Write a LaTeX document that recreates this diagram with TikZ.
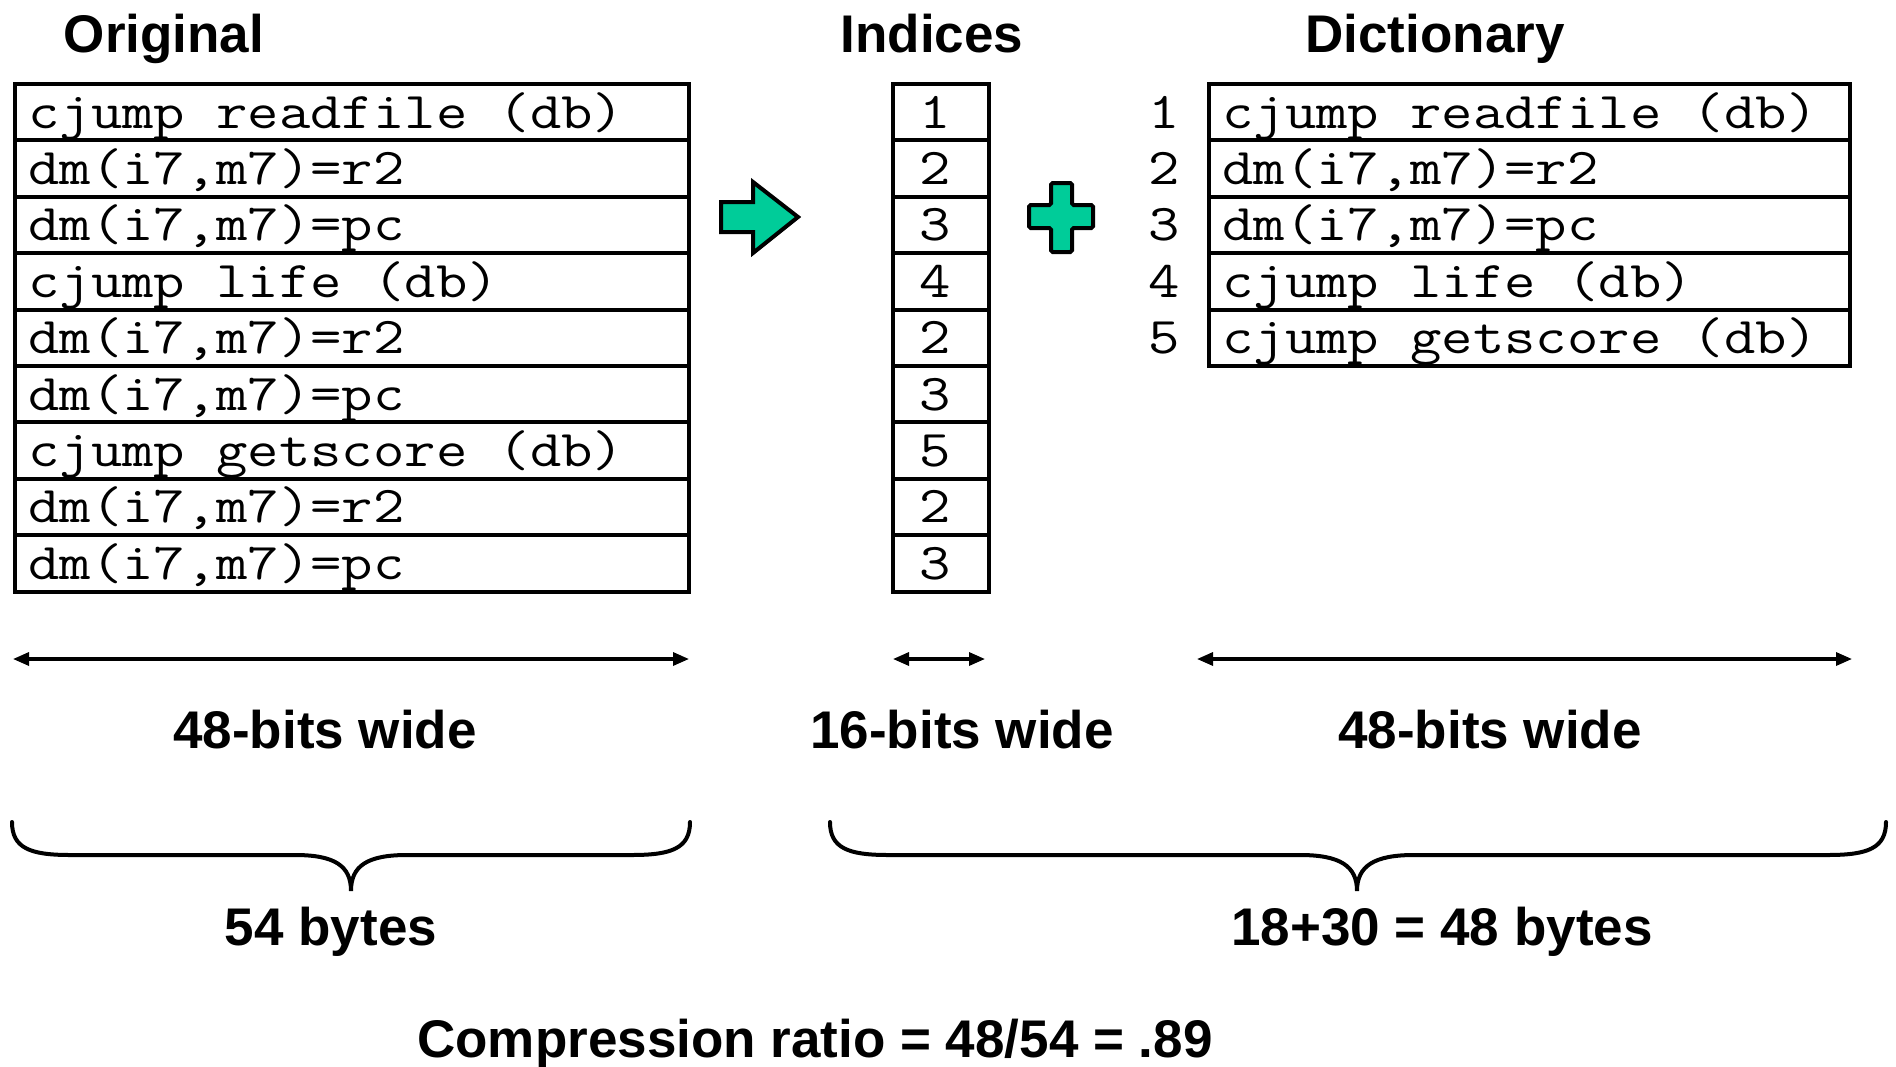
\documentclass[tikz,border=0pt]{standalone}
\usepackage{fontspec}
\usepackage{graphicx}
\setmainfont{Liberation Sans}
\usetikzlibrary{arrows.meta}
\definecolor{plusgreen}{RGB}{0,204,153}
% typewriter text widened to a 0.6em advance
\newcommand{\widecode}[1]{\scalebox{1.18}[1]{#1}}
\begin{document}
\begin{tikzpicture}[x=0.5pt,y=-0.5pt,
  cell/.style={draw=black,line width=2pt,inner sep=0pt,anchor=north west,minimum height=28.2pt},
  code/.style={font=\fontsize{25.8pt}{28pt}\ttfamily,anchor=base west,inner sep=0pt},
  idx/.style={font=\fontsize{25.8pt}{28pt}\ttfamily,anchor=base,inner sep=0pt},
  lbl/.style={font=\fontsize{26.5pt}{30pt}\bfseries,anchor=base,inner sep=0pt},
  dim/.style={line width=1.6pt,{Triangle[length=8pt,width=6.5pt]}-{Triangle[length=8pt,width=6.5pt]}},
  brace/.style={line width=2pt,line cap=round},
  symbol/.style={fill=plusgreen,draw=black,line width=2pt,line join=miter}
]
\useasboundingbox (0,0) rectangle (1896,1066);

% column headings
\node[lbl] (hOrig) at (164,52) {Original};
\node[lbl] (hIdx)  at (932,52) {Indices};
\node[lbl] (hDict) at (1435,52) {Dictionary};

% original program, one 48-bit word per row
\foreach \t [count=\i from 0] in {cjump readfile (db),{dm(i7,m7)=r2},{dm(i7,m7)=pc},cjump life (db),{dm(i7,m7)=r2},{dm(i7,m7)=pc},cjump getscore (db),{dm(i7,m7)=r2},{dm(i7,m7)=pc}}{
  \node[cell,minimum width=337pt] (o\i) at (13,82+56.4*\i) {};
  \node[code] (ot\i) at (28,82+56.4*\i+46) {\widecode{\t}};
}

% index column, 16 bits per entry
\foreach \n [count=\i from 0] in {1,2,3,4,2,3,5,2,3}{
  \node[cell,minimum width=48pt] (x\i) at (891,82+56.4*\i) {};
  \node[idx] (xt\i) at (935,82+56.4*\i+46) {\widecode{\n}};
}

% dictionary of unique words
\foreach \t [count=\i from 0] in {cjump readfile (db),{dm(i7,m7)=r2},{dm(i7,m7)=pc},cjump life (db),cjump getscore (db)}{
  \pgfmathtruncatemacro{\k}{\i+1}
  \node[cell,minimum width=320.5pt] (d\i) at (1207,82+56.4*\i) {};
  \node[code] (dt\i) at (1222,82+56.4*\i+46) {\widecode{\t}};
  \node[idx] (dn\i) at (1164,82+56.4*\i+46) {\widecode{\k}};
}

% block arrow and plus sign
\draw[symbol] (721,202) -- (753,202) -- (753,182) -- (798,217) -- (753,253)
  -- (753,232) -- (721,232) -- cycle;
\draw[symbol,rounded corners=0.8pt] (1051,183) -- (1072,183) -- (1072,205) -- (1093,205)
  -- (1093,228) -- (1072,228) -- (1072,252) -- (1051,252) -- (1051,228)
  -- (1029,228) -- (1029,205) -- (1051,205) -- cycle;

% width dimensions
\coordinate (wa1) at (13,659);   \coordinate (wa2) at (689,659);
\coordinate (wb1) at (893,659);  \coordinate (wb2) at (985,659);
\coordinate (wc1) at (1197,659); \coordinate (wc2) at (1852,659);
\draw[dim] (wa1) -- (wa2);
\draw[dim] (wb1) -- (wb2);
\draw[dim] (wc1) -- (wc2);
\node[lbl] (wla) at (325,748) {48-bits wide};
\node[lbl] (wlb) at (962,748) {16-bits wide};
\node[lbl] (wlc) at (1490,748) {48-bits wide};

% size braces
\draw[brace] (12,822) .. controls (12,848) and (30,855) .. (70,855) -- (295,855)
  .. controls (335,855) and (351,866) .. (351,891)
  .. controls (351,866) and (367,855) .. (407,855) -- (632,855)
  .. controls (672,855) and (690,848) .. (690,822);
\draw[brace] (830,822) .. controls (830,848) and (848,855) .. (888,855) -- (1300,855)
  .. controls (1340,855) and (1357,866) .. (1357,891)
  .. controls (1357,866) and (1374,855) .. (1414,855) -- (1828,855)
  .. controls (1868,855) and (1886,848) .. (1886,822);
\node[lbl] (sa) at (331,945) {54 bytes};
\node[lbl] (sb) at (1442,945) {18+30 = 48 bytes};

\node[lbl] (ratio) at (815,1057) {Compression ratio = 48/54 = .89};
\end{tikzpicture}
\end{document}
